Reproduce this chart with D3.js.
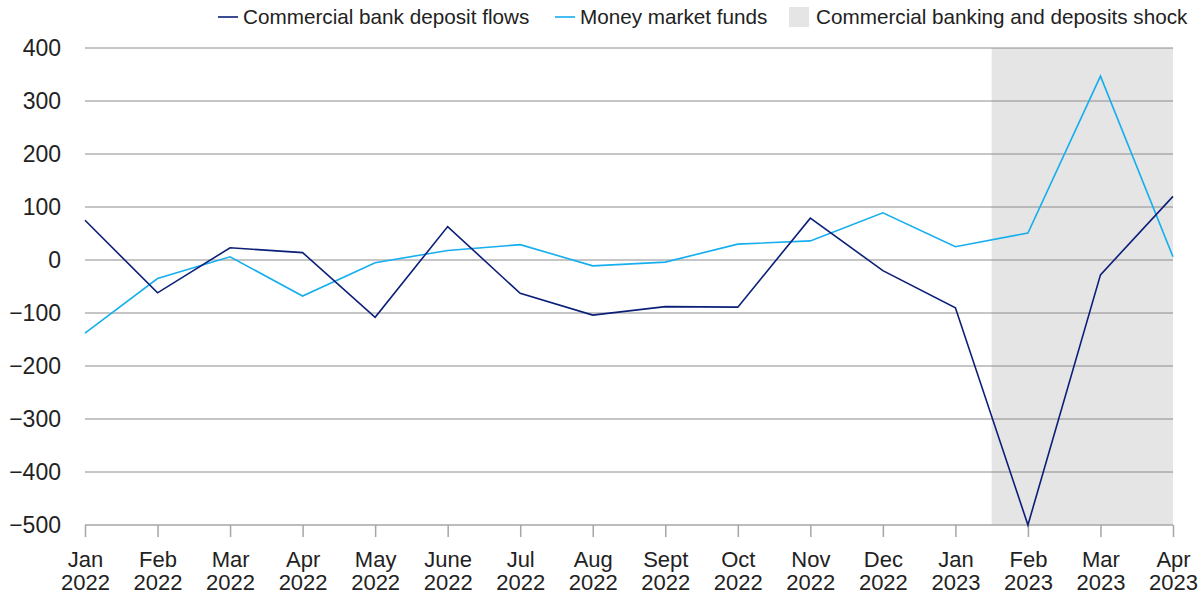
<!DOCTYPE html>
<html>
<head>
<meta charset="utf-8">
<script src="https://cdn.jsdelivr.net/npm/d3@7"></script>
<style>
  html, body { margin: 0; padding: 0; background: #fff; }
  svg { display: block; font-family: "Liberation Sans", Arial, sans-serif; }
</style>
</head>
<body>
<svg id="chart" width="1204" height="596"></svg>
<script>
// Monthly flows, $ billion
const months = ["Jan", "Feb", "Mar", "Apr", "May", "June", "Jul", "Aug", "Sept", "Oct", "Nov", "Dec", "Jan", "Feb", "Mar", "Apr"];
const years = ["2022", "2022", "2022", "2022", "2022", "2022", "2022", "2022", "2022", "2022", "2022", "2022", "2023", "2023", "2023", "2023"];
const bankDeposits = [75, -62, 23, 14, -108, 63, -63, -104, -88, -89, 79, -20, -90, -500, -28, 120];
const moneyMarket = [-138, -35, 6, -68, -5, 18, 29, -11, -4, 30, 36, 89, 25, 51, 347, 6];
const yTicks = [400, 300, 200, 100, 0, -100, -200, -300, -400, -500];
// Shock period spans from mid Jan–Feb 2023 to the end of the series
const shockStart = 12.5;
const shockEnd = 15;

const W = 1204, H = 596;
const margin = { top: 48, right: 31, bottom: 71, left: 85 };
const iw = W - margin.left - margin.right;
const ih = H - margin.top - margin.bottom;

const svg = d3.select("#chart");
const g = svg.append("g").attr("transform", `translate(${margin.left},${margin.top})`);

const x = d3.scaleLinear().domain([0, months.length - 1]).range([0, iw]);
const y = d3.scaleLinear().domain([-500, 400]).range([ih, 0]);

const navy = "#0b1f78";
const cyan = "#15aeef";
const shade = "#e5e5e5";
const textColor = "#222";

// shaded shock period
g.append("rect")
  .attr("x", x(shockStart))
  .attr("y", y(400))
  .attr("width", x(shockEnd) - x(shockStart))
  .attr("height", y(-500) - y(400))
  .attr("fill", shade);

// horizontal gridlines
g.append("g")
  .selectAll("line")
  .data(yTicks.filter(d => d !== -500))
  .join("line")
  .attr("x1", 0).attr("x2", iw)
  .attr("y1", d => y(d)).attr("y2", d => y(d))
  .attr("stroke", "#8c8c8c")
  .attr("stroke-width", 1);

// y axis labels
const yAxis = d3.axisLeft(y)
  .tickValues(yTicks)
  .tickSize(0)
  .tickPadding(24)
  .tickFormat(d => d < 0 ? "\u2212" + Math.abs(d) : String(d));
const yg = g.append("g").call(yAxis);
yg.select(".domain").remove();
yg.selectAll("text")
  .attr("font-size", 23)
  .attr("fill", textColor)
  .attr("font-family", "Liberation Sans, Arial, sans-serif");

// bottom axis with ticks
const xAxis = d3.axisBottom(x)
  .tickValues(d3.range(months.length))
  .tickSize(12)
  .tickPadding(0)
  .tickFormat("");
const xg = g.append("g").attr("transform", `translate(0,${ih})`).call(xAxis);
xg.select(".domain")
  .attr("d", `M0,0H${iw}`)
  .attr("stroke", "#a6a6a6")
  .attr("stroke-width", 1.5);
xg.selectAll(".tick line").attr("stroke", "#a6a6a6").attr("stroke-width", 1.5);
const labels = xg.selectAll(".tick").append("text")
  .attr("fill", textColor)
  .attr("font-size", 22)
  .attr("text-anchor", "middle")
  .attr("font-family", "Liberation Sans, Arial, sans-serif");
labels.append("tspan").attr("x", 0).attr("y", 42).text(i => months[i]);
labels.append("tspan").attr("x", 0).attr("y", 65).text(i => years[i]);

// series lines
const line = d3.line().x((d, i) => x(i)).y(d => y(d));
g.append("path")
  .datum(moneyMarket)
  .attr("fill", "none")
  .attr("stroke", cyan)
  .attr("stroke-width", 1.6)
  .attr("stroke-linejoin", "miter")
  .attr("d", line);
g.append("path")
  .datum(bankDeposits)
  .attr("fill", "none")
  .attr("stroke", navy)
  .attr("stroke-width", 1.6)
  .attr("stroke-linejoin", "miter")
  .attr("d", line);

// legend
const legend = svg.append("g").attr("font-size", 20.7).attr("fill", textColor);
const items = [
  { label: "Commercial bank deposit flows", type: "line", color: navy, x: 218 },
  { label: "Money market funds", type: "line", color: cyan, x: 555 },
  { label: "Commercial banking and deposits shock", type: "box", color: shade, x: 789 }
];
items.forEach(it => {
  const lg = legend.append("g").attr("transform", `translate(${it.x},0)`);
  if (it.type === "line") {
    lg.append("line").attr("x1", 0).attr("x2", 20).attr("y1", 17).attr("y2", 17)
      .attr("stroke", it.color).attr("stroke-width", 1.6);
    lg.append("text").attr("x", 25).attr("y", 24).text(it.label);
  } else {
    lg.append("rect").attr("x", 0).attr("y", 7).attr("width", 20).attr("height", 20).attr("fill", it.color);
    lg.append("text").attr("x", 27).attr("y", 24).text(it.label);
  }
});
</script>
</body>
</html>
